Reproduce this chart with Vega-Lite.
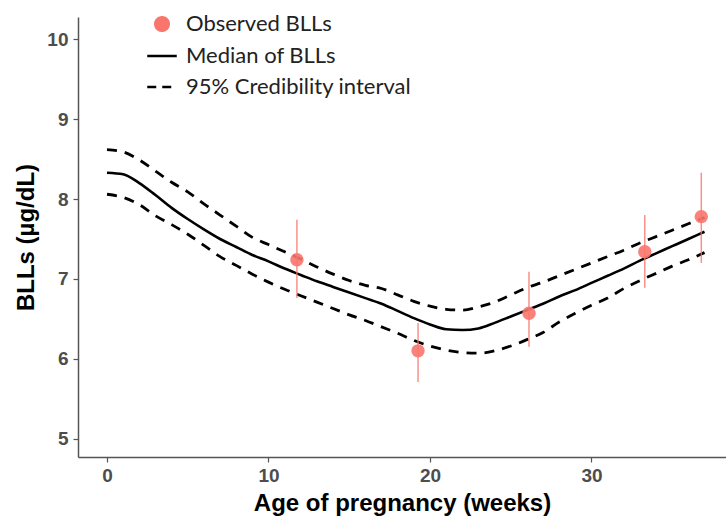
{
  "$schema": "https://vega.github.io/schema/vega-lite/v6.json",
  "width": 648,
  "height": 440,
  "autosize": {"type": "none"},
  "padding": {"left": 78, "top": 17, "right": 0, "bottom": 65},
  "background": "white",
  "config": {
    "view": {"stroke": null},
    "axis": {
      "grid": false,
      "domainColor": "#555555",
      "domainWidth": 1.5,
      "tickColor": "#555555",
      "tickSize": 5,
      "tickWidth": 1.2,
      "labelColor": "#4d4d4d",
      "labelFont": "Liberation Sans",
      "labelFontWeight": "bold",
      "labelFontSize": 19,
      "titleFont": "Liberation Sans",
      "titleFontWeight": "bold",
      "titleFontSize": 24,
      "titleColor": "#000000"
    }
  },
  "datasets": {
    "obs": [
      {"week": 11.76, "bll": 7.24, "lo": 6.76, "hi": 7.74},
      {"week": 19.26, "bll": 6.10, "lo": 5.71, "hi": 6.45},
      {"week": 26.13, "bll": 6.57, "lo": 6.15, "hi": 7.09},
      {"week": 33.3, "bll": 7.34, "lo": 6.89, "hi": 7.80},
      {"week": 36.8, "bll": 7.78, "lo": 7.20, "hi": 8.33}
    ],
    "curve": [
      {"w": 0, "m": 8.33, "lo": 8.06, "hi": 8.62},
      {"w": 1, "m": 8.31, "lo": 8.02, "hi": 8.59},
      {"w": 2, "m": 8.20, "lo": 7.93, "hi": 8.49},
      {"w": 3, "m": 8.05, "lo": 7.79, "hi": 8.35},
      {"w": 4, "m": 7.89, "lo": 7.68, "hi": 8.21},
      {"w": 5, "m": 7.75, "lo": 7.56, "hi": 8.09},
      {"w": 6, "m": 7.62, "lo": 7.42, "hi": 7.94},
      {"w": 7, "m": 7.50, "lo": 7.28, "hi": 7.80},
      {"w": 8, "m": 7.40, "lo": 7.17, "hi": 7.66},
      {"w": 9, "m": 7.30, "lo": 7.06, "hi": 7.52},
      {"w": 10, "m": 7.22, "lo": 6.96, "hi": 7.43},
      {"w": 11, "m": 7.13, "lo": 6.87, "hi": 7.34},
      {"w": 12, "m": 7.05, "lo": 6.79, "hi": 7.25},
      {"w": 13, "m": 6.97, "lo": 6.71, "hi": 7.15},
      {"w": 14, "m": 6.90, "lo": 6.63, "hi": 7.06},
      {"w": 15, "m": 6.83, "lo": 6.55, "hi": 6.98},
      {"w": 16, "m": 6.76, "lo": 6.48, "hi": 6.92},
      {"w": 17, "m": 6.69, "lo": 6.40, "hi": 6.88},
      {"w": 18, "m": 6.60, "lo": 6.32, "hi": 6.80},
      {"w": 19, "m": 6.51, "lo": 6.23, "hi": 6.72},
      {"w": 20, "m": 6.43, "lo": 6.16, "hi": 6.66},
      {"w": 21, "m": 6.37, "lo": 6.11, "hi": 6.62},
      {"w": 22, "m": 6.36, "lo": 6.08, "hi": 6.61},
      {"w": 23, "m": 6.38, "lo": 6.07, "hi": 6.65},
      {"w": 24, "m": 6.45, "lo": 6.10, "hi": 6.71},
      {"w": 25, "m": 6.53, "lo": 6.16, "hi": 6.80},
      {"w": 26, "m": 6.61, "lo": 6.24, "hi": 6.89},
      {"w": 27, "m": 6.69, "lo": 6.33, "hi": 6.96},
      {"w": 28, "m": 6.78, "lo": 6.46, "hi": 7.04},
      {"w": 29, "m": 6.86, "lo": 6.57, "hi": 7.12},
      {"w": 30, "m": 6.95, "lo": 6.67, "hi": 7.20},
      {"w": 31, "m": 7.04, "lo": 6.76, "hi": 7.28},
      {"w": 32, "m": 7.13, "lo": 6.88, "hi": 7.36},
      {"w": 33, "m": 7.23, "lo": 6.98, "hi": 7.45},
      {"w": 34, "m": 7.32, "lo": 7.07, "hi": 7.53},
      {"w": 35, "m": 7.41, "lo": 7.16, "hi": 7.61},
      {"w": 36, "m": 7.50, "lo": 7.24, "hi": 7.69},
      {"w": 37, "m": 7.59, "lo": 7.33, "hi": 7.77}
    ]
  },
  "layer": [
    {
      "data": {"name": "curve"},
      "mark": {"type": "line", "strokeDash": [10, 8], "strokeWidth": 2.8, "interpolate": "monotone"},
      "encoding": {
        "x": {"field": "w", "type": "quantitative", "scale": {"domain": [-1.796, 38.33], "nice": false, "zero": false},
              "axis": {"values": [0, 10, 20, 30], "format": "d", "title": "Age of pregnancy (weeks)", "labelPadding": 4, "titlePadding": 6}},
        "y": {"field": "hi", "type": "quantitative", "scale": {"domain": [4.771, 10.279], "nice": false, "zero": false},
              "axis": {"values": [5, 6, 7, 8, 9, 10], "format": "d", "title": "BLLs (µg/dL)", "labelPadding": 5, "titlePadding": 8}},
        "color": {
          "datum": "95% Credibility interval",
          "type": "nominal",
          "scale": {"domain": ["Observed BLLs", "Median of BLLs", "95% Credibility interval"], "range": ["#F8766D", "#000000", "#000000"]},
          "legend": {
            "title": null,
            "orient": "none",
            "legendX": 73,
            "legendY": -4,
            "padding": 0,
            "rowPadding": 9,
            "symbolSize": 180,
            "labelOffset": 13,
            "labelLimit": 0,
            "labelFont": "Lato",
            "labelFontSize": 22,
            "labelColor": "#222222",
            "encode": {
              "symbols": {
                "update": {
                  "shape": {"signal": "datum.value === 'Observed BLLs' ? 'circle' : 'M-2.2,0H2.2'"},
                  "fill": {"signal": "datum.value === 'Observed BLLs' ? '#F8766D' : 'transparent'"},
                  "stroke": {"signal": "datum.value === 'Observed BLLs' ? 'transparent' : '#000000'"},
                  "strokeWidth": {"value": 2.6},
                  "strokeDash": {"signal": "datum.value === '95% Credibility interval' ? [9, 6] : [1, 0]"},
                  "opacity": {"value": 1}
                }
              }
            }
          }
        }
      }
    },
    {
      "data": {"name": "curve"},
      "mark": {"type": "line", "strokeDash": [10, 8], "strokeWidth": 2.8, "interpolate": "monotone"},
      "encoding": {
        "x": {"field": "w", "type": "quantitative"},
        "y": {"field": "lo", "type": "quantitative"},
        "color": {"datum": "95% Credibility interval", "type": "nominal"}
      }
    },
    {
      "data": {"name": "curve"},
      "mark": {"type": "line", "strokeWidth": 2.6, "interpolate": "monotone"},
      "encoding": {
        "x": {"field": "w", "type": "quantitative"},
        "y": {"field": "m", "type": "quantitative"},
        "color": {"datum": "Median of BLLs", "type": "nominal"}
      }
    },
    {
      "data": {"name": "obs"},
      "mark": {"type": "rule", "color": "#F8766D", "strokeWidth": 1.5, "opacity": 0.8},
      "encoding": {
        "x": {"field": "week", "type": "quantitative"},
        "y": {"field": "lo", "type": "quantitative"},
        "y2": {"field": "hi"}
      }
    },
    {
      "data": {"name": "obs"},
      "mark": {"type": "point", "filled": true, "size": 180, "opacity": 0.9, "shape": "circle"},
      "encoding": {
        "x": {"field": "week", "type": "quantitative"},
        "y": {"field": "bll", "type": "quantitative"},
        "color": {"datum": "Observed BLLs", "type": "nominal"}
      }
    }
  ]
}
